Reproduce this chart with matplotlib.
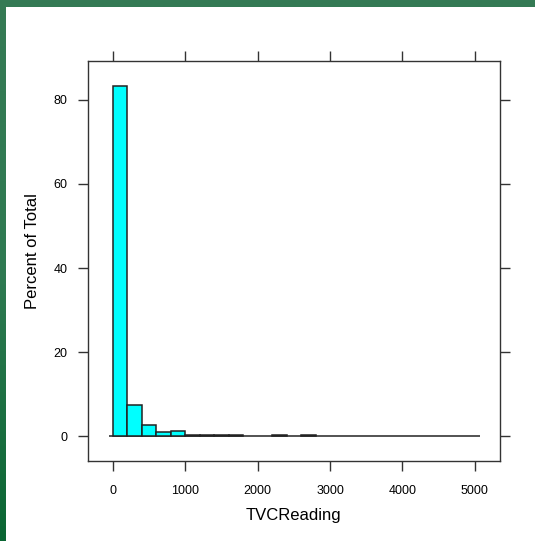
import numpy as np
import matplotlib
matplotlib.use("Agg")
import matplotlib.pyplot as plt
from matplotlib.colors import LinearSegmentedColormap

plt.rcParams['font.family'] = ['Liberation Sans', 'DejaVu Sans']

# Data: histogram of TVCReading, bins of width 200, percent of total
bin_edges = [0, 200, 400, 600, 800, 1000, 1200, 1400, 1600, 1800, 2000,
             2200, 2400, 2600, 2800]
percent = [83.2, 7.4, 2.8, 0.95, 1.35, 0.25, 0.25, 0.25, 0.25, 0.0,
           0.0, 0.25, 0.0, 0.25]
x_ticks = [0, 1000, 2000, 3000, 4000, 5000]
y_ticks = [0, 20, 40, 60, 80]
baseline_range = [-60, 5070]

W, H = 535, 541
fig = plt.figure(figsize=(W / 100, H / 100), dpi=100)
fig.patch.set_facecolor('white')

# green frame (top and left), gradient
bg = fig.add_axes([0, 0, 1, 1], zorder=-10)
bg.set_axis_off()
cmap = LinearSegmentedColormap.from_list('g', ['#0a6633', '#2f7a52', '#357a55'])
grad = np.linspace(0, 1, 256).reshape(-1, 1)
bg.imshow(grad, cmap=cmap, aspect='auto', extent=[0, 1, 0, 1], origin='lower')
bg.add_patch(plt.Rectangle((6 / W, 0), 1, 1 - 7 / H, transform=bg.transAxes,
                           facecolor='white', edgecolor='none'))
bg.set_xlim(0, 1)
bg.set_ylim(0, 1)

ax = fig.add_axes([87.7 / W, (H - 461) / H, (500 - 87.7) / W, (461 - 61.4) / H])
edges = np.array(bin_edges)
ax.hlines(0, baseline_range[0], baseline_range[1], color='#444444', lw=1.3, zorder=1)
pct = np.array(percent)
mask = pct > 0
ax.bar(edges[:-1][mask], pct[mask], width=np.diff(edges)[mask], align='edge',
       color='#00FFFF', edgecolor='#222222', linewidth=1.1, zorder=2)

ax.set_xlim(-350, 5350)
ax.set_ylim(-5.85, 89.1)
ax.set_xticks(x_ticks)
ax.set_yticks(y_ticks)
ax.tick_params(axis='both', which='both', direction='out', length=7.5, width=1,
               color='#333333', labelsize=9)
ax.tick_params(axis='x', top=True, labeltop=False, pad=9.5)
ax.tick_params(axis='y', right=True, labelright=False, pad=7)
for s in ax.spines.values():
    s.set_color('#333333')
    s.set_linewidth(1.0)

ax.set_xlabel('TVCReading', fontsize=12, labelpad=8)
ax.set_ylabel('Percent of Total', fontsize=12, labelpad=10)
ax.yaxis.set_label_coords(-0.115, 0.525)

fig.savefig('out.png', dpi=100)
